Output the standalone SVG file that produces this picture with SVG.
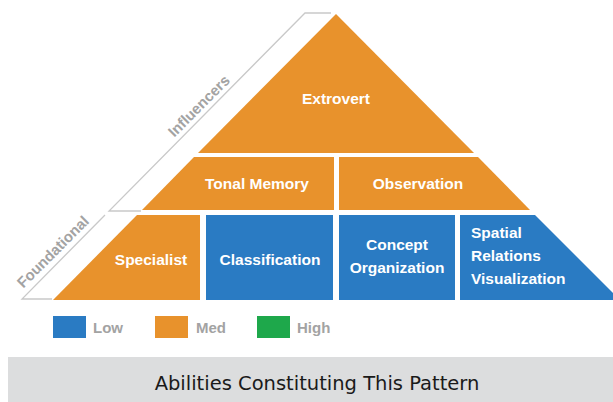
<svg xmlns="http://www.w3.org/2000/svg" width="613" height="402" viewBox="0 0 613 402">
<style>
.med{fill:#E8922C}
.low{fill:#2A7BC3}
.high{fill:#1EA84B}
.lbl{font-family:"Liberation Sans",Arial,sans-serif;font-weight:bold;font-size:15.5px;fill:#ffffff;text-anchor:middle}
.band{fill:none;stroke:#c9c9c9;stroke-width:1.3}
.side{font-family:"Liberation Sans",Arial,sans-serif;font-weight:bold;font-size:15px;fill:#a3a3a3;text-anchor:middle}
.leg{font-family:"Liberation Sans",Arial,sans-serif;font-weight:bold;font-size:15px;fill:#a3a3a3}
</style>
<rect width="613" height="402" fill="#ffffff"/>
<g id="bands">
<polyline class="band" points="331,13 305,13 109,211 141,211"/>
<polyline class="band" points="105,215 22,299 52,299"/>
<text class="side" transform="translate(199,106) rotate(-45)" dy="5">Influencers</text>
<text class="side" transform="translate(53,252) rotate(-45)" dy="5">Foundational</text>
</g>
<g id="extrovert">
<polygon class="med" points="336,14 198,153 474,153"/>
<text class="lbl" x="336" y="104">Extrovert</text>
</g>
<g id="tonal-memory">
<polygon class="med" points="194,157 334,157 334,210 142,210"/>
<text class="lbl" x="257" y="189">Tonal Memory</text>
</g>
<g id="observation">
<polygon class="med" points="339,157 478,157 530,210 339,210"/>
<text class="lbl" x="418" y="189">Observation</text>
</g>
<g id="specialist">
<polygon class="med" points="137,215 200,215 200,300 53,300"/>
<text class="lbl" x="151" y="265">Specialist</text>
</g>
<g id="classification">
<rect class="low" x="206" y="215" width="127" height="85"/>
<text class="lbl" x="270" y="265">Classification</text>
</g>
<g id="concept-organization">
<rect class="low" x="339" y="215" width="116" height="85"/>
<text class="lbl" x="397" y="250">Concept</text>
<text class="lbl" x="397" y="273">Organization</text>
</g>
<g id="spatial-relations">
<polygon class="low" points="460,215 535,215 620,300 460,300"/>
<text class="lbl" x="471" y="238" style="text-anchor:start">Spatial</text>
<text class="lbl" x="471" y="261" style="text-anchor:start">Relations</text>
<text class="lbl" x="471" y="284" style="text-anchor:start">Visualization</text>
</g>
<g id="legend">
<rect class="low" x="53" y="316" width="33" height="22"/>
<text class="leg" x="93" y="333">Low</text>
<rect class="med" x="155" y="316" width="33" height="22"/>
<text class="leg" x="196" y="333">Med</text>
<rect class="high" x="257" y="316" width="33" height="22"/>
<text class="leg" x="297" y="333">High</text>
</g>
<g id="caption">
<rect x="8" y="357" width="605" height="45" fill="#DCDDDE"/>
<text x="317" y="390" font-family="'DejaVu Sans',sans-serif" font-size="19.5" fill="#1a1a1a" text-anchor="middle">Abilities Constituting This Pattern</text>
</g>
</svg>
